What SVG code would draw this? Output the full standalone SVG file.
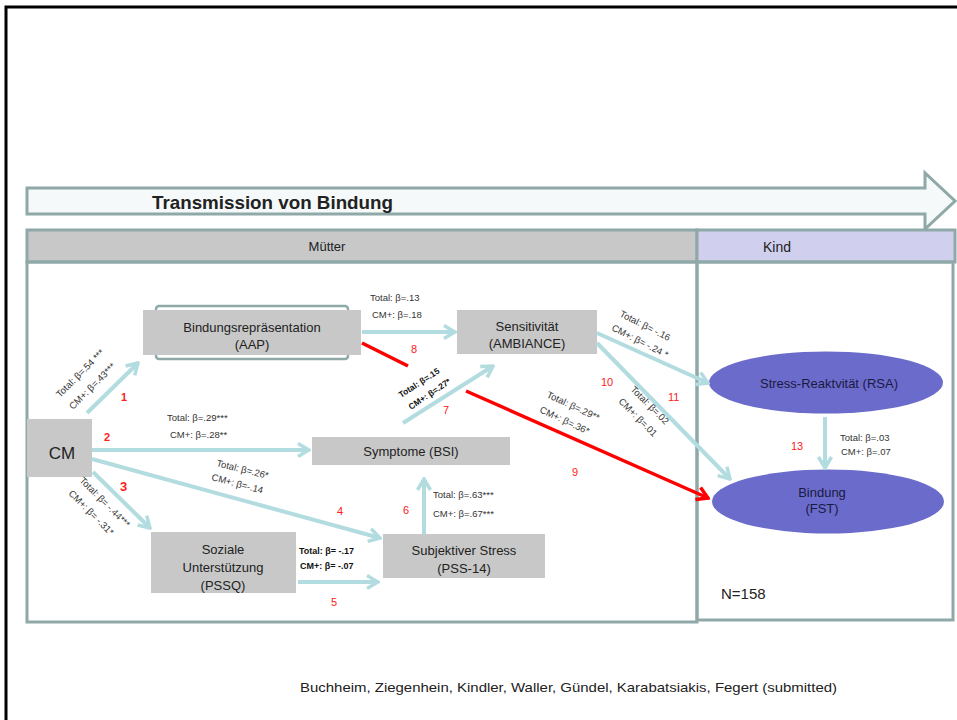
<svg xmlns="http://www.w3.org/2000/svg" width="957" height="720" viewBox="0 0 957 720">
<style>
text{font-family:"Liberation Sans","DejaVu Sans",sans-serif;fill:#222}
.node rect{fill:#c8c8c8}
.nt{font-size:13px;text-anchor:middle;fill:#222}
.lab{font-size:9.5px;fill:#333}
.labb{font-size:9px;font-weight:bold;fill:#111}
.num{font-size:11px;fill:#ff2020}
.numb{font-size:11px;fill:#ff2020;font-weight:bold}
.conn line{stroke:#b2dcdf;stroke-width:4;fill:none}
.conn line.arr{marker-end:url(#ah)}
.conn line.red{stroke:#ff0000;stroke-width:3.5}
.frame{fill:none;stroke:#8fa8a8;stroke-width:3}
.ell{fill:#6b6bcc}
.et{font-size:13px;text-anchor:middle;fill:#1a1a40}
</style>
<defs>
<marker id="ah" viewBox="0 0 16 16" refX="14" refY="8" markerWidth="16" markerHeight="16" markerUnits="userSpaceOnUse" orient="auto">
<path d="M3,1.5 L14,8 L3,14.5" fill="none" stroke="#b2dcdf" stroke-width="3.5"/>
</marker>
<marker id="ahr" viewBox="0 0 16 16" refX="14" refY="8" markerWidth="16" markerHeight="16" markerUnits="userSpaceOnUse" orient="auto">
<path d="M3,1.5 L14,8 L3,14.5" fill="none" stroke="#ff0000" stroke-width="3.5"/>
</marker>
</defs>
<rect width="957" height="720" fill="#fff"/>
<rect x="6" y="7" width="1000" height="800" fill="none" stroke="#000" stroke-width="3"/>

<g id="banner">
<path d="M27,188 L925,188 L925,173 L955,201 L925,229 L925,214 L27,214 Z" fill="#f5f9f9" stroke="#8fa8a8" stroke-width="3"/>
<text x="152" y="209" font-size="19" font-weight="bold" fill="#111" textLength="241" lengthAdjust="spacingAndGlyphs">Transmission von Bindung</text>
</g>

<g id="header-muetter">
<rect x="27" y="230" width="670" height="32" fill="#c8c8c8" stroke="#8fa8a8" stroke-width="3"/>
<text x="327" y="251" font-size="13" text-anchor="middle">Mütter</text>
</g>
<g id="header-kind">
<rect x="697" y="230" width="258" height="32" fill="#d0d0ee" stroke="#8fa8a8" stroke-width="3"/>
<text x="777" y="252" font-size="14" text-anchor="middle">Kind</text>
</g>
<rect class="frame" x="27" y="262" width="670" height="360"/>
<rect class="frame" x="697" y="262" width="256" height="358"/>

<g id="node-aap" class="node">
<rect x="156" y="306" width="192" height="53" rx="3" fill="none" stroke="#8fa8a8" stroke-width="2.5" style="fill:none"/>
<rect x="143" y="310" width="218" height="45"/>
<text class="nt" x="252" y="332">Bindungsrepräsentation</text>
<text class="nt" x="252" y="349">(AAP)</text>
</g>
<g id="node-sens" class="node">
<rect x="457" y="310" width="140" height="44"/>
<text class="nt" x="527" y="331">Sensitivität</text>
<text class="nt" x="527" y="348">(AMBIANCE)</text>
</g>
<g id="node-cm" class="node">
<rect x="27" y="419" width="65" height="58"/>
<text class="nt" x="62" y="459" style="font-size:17px">CM</text>
</g>
<g id="node-bsi" class="node">
<rect x="312" y="437" width="198" height="28"/>
<text class="nt" x="411" y="456">Symptome (BSI)</text>
</g>
<g id="node-pssq" class="node">
<rect x="151" y="532" width="145" height="61"/>
<text class="nt" x="223" y="554">Soziale</text>
<text class="nt" x="223" y="572">Unterstützung</text>
<text class="nt" x="223" y="590">(PSSQ)</text>
</g>
<g id="node-pss" class="node">
<rect x="383" y="534" width="162" height="44"/>
<text class="nt" x="464" y="555">Subjektiver Stress</text>
<text class="nt" x="464" y="573">(PSS-14)</text>
</g>
<g id="node-rsa">
<ellipse class="ell" cx="826" cy="382.5" rx="117" ry="31"/>
<text class="et" x="829" y="388">Stress-Reaktvität (RSA)</text>
</g>
<g id="node-fst">
<ellipse class="ell" cx="828" cy="501.5" rx="116" ry="32"/>
<text class="et" x="822" y="497">Bindung</text>
<text class="et" x="822" y="513">(FST)</text>
</g>

<g id="connectors" class="conn">
<line class="arr" x1="87" y1="413" x2="138" y2="363"/>
<line class="arr" x1="92" y1="450" x2="309" y2="450"/>
<line class="arr" x1="93" y1="472" x2="150" y2="528"/>
<line class="arr" x1="92" y1="459" x2="380" y2="538"/>
<line class="arr" x1="298" y1="582" x2="378" y2="582"/>
<line class="arr" x1="424" y1="534" x2="424" y2="479"/>
<line class="arr" x1="403" y1="423" x2="493" y2="366"/>
<line class="arr" x1="362" y1="332" x2="455" y2="332"/>
<line class="red" x1="362" y1="343" x2="408" y2="366"/>
<line class="red" x1="466" y1="391" x2="708" y2="498" style="marker-end:url(#ahr)"/>
<line class="arr" x1="597" y1="333" x2="708" y2="383"/>
<line class="arr" x1="597" y1="343" x2="730" y2="479"/>
<line class="arr" x1="825" y1="417" x2="825" y2="468"/>
</g>

<g id="labels">
<text class="lab" transform="translate(60,398) rotate(-45)">Total: β=.54 ***</text>
<text class="lab" transform="translate(73,410) rotate(-45)">CM+: β=.43***</text>
<text class="numb" x="121" y="401">1</text>
<text class="numb" x="104" y="441">2</text>
<text class="numb" x="120" y="491" style="font-size:13px">3</text>
<text class="lab" x="167" y="421">Total: β=.29***</text>
<text class="lab" x="170" y="438">CM+: β=.28**</text>
<text class="lab" transform="translate(79,481) rotate(45)">Total: β= -.44***</text>
<text class="lab" transform="translate(68,494) rotate(45)">CM+: β= -.31*</text>
<text class="lab" transform="translate(216,466) rotate(14)">Total: β=.26*</text>
<text class="lab" transform="translate(211,480) rotate(15)">CM+: β=-.14</text>
<text class="num" x="337" y="515">4</text>
<text class="labb" x="299" y="554">Total: β= -.17</text>
<text class="labb" x="300" y="569">CM+: β= -.07</text>
<text class="num" x="331" y="606">5</text>
<text class="num" x="403" y="514">6</text>
<text class="lab" x="433" y="498">Total: β=.63***</text>
<text class="lab" x="433" y="517">CM+: β=.67***</text>
<text class="labb" transform="translate(401,398) rotate(-33)" style="font-size:8.5px">Total: β=.15</text>
<text class="labb" transform="translate(411,410) rotate(-34)" style="font-size:8.5px">CM+: β=.27*</text>
<text class="num" x="443" y="414">7</text>
<text class="lab" x="370" y="301">Total: β=.13</text>
<text class="lab" x="372" y="318">CM+: β=.18</text>
<text class="num" x="411" y="353">8</text>
<text class="lab" transform="translate(546,397) rotate(25)">Total: β=.29**</text>
<text class="lab" transform="translate(539,412) rotate(25)">CM+: β=.36*</text>
<text class="num" x="572" y="476">9</text>
<text class="lab" transform="translate(619,316) rotate(27)">Total: β= -.16</text>
<text class="lab" transform="translate(611,330) rotate(27)">CM+: β= -.24 *</text>
<text class="num" x="601" y="386">10</text>
<text class="lab" transform="translate(630,390) rotate(45)">Total: β=.02</text>
<text class="lab" transform="translate(618,402) rotate(45)">CM+: β=.01</text>
<text class="num" x="668" y="401">11</text>
<text class="num" x="791" y="450">13</text>
<text class="lab" x="840" y="441">Total: β=.03</text>
<text class="lab" x="841" y="455">CM+: β=.07</text>
<text x="721" y="599" font-size="15" fill="#222">N=158</text>
<text x="300" y="692" font-size="13" fill="#222" textLength="537" lengthAdjust="spacingAndGlyphs">Buchheim, Ziegenhein, Kindler, Waller, Gündel, Karabatsiakis, Fegert  (submitted)</text>
</g>
</svg>
